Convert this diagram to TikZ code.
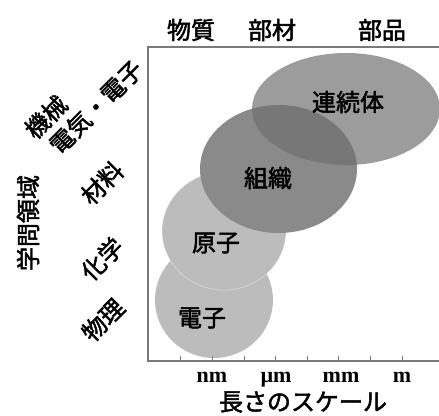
\documentclass[tikz,border=0pt]{standalone}
\usepackage{fontspec}
\setmainfont{Liberation Serif}
\newfontfamily\jp{Noto Sans CJK JP}[FakeBold=2]
\definecolor{cLight}{HTML}{BCBCBC}
\definecolor{cMid}{HTML}{8A8A8A}
\definecolor{cCont}{HTML}{9C9C9C}
\definecolor{cOver}{HTML}{777777}
\definecolor{cFrame}{HTML}{7A7A7A}
\tikzset{
  jplbl/.style={font=\jp\fontsize{24}{26}\selectfont, inner sep=0pt, text=black},
  unitlbl/.style={font=\bfseries\fontsize{22}{24}\selectfont, inner sep=0pt, anchor=base},
  framestyle/.style={draw=cFrame, line width=1.3pt},
  tickstyle/.style={draw=cFrame, line width=1pt},
}
\begin{document}
\begin{tikzpicture}[x=1pt,y=-1pt]
\useasboundingbox (0,0) rectangle (439,415);
% ellipses
\fill[cLight] (214,300) ellipse [x radius=59, y radius=58];
\fill[cLight] (224,231) ellipse [x radius=62, y radius=59];
\draw[white, opacity=0.35, line width=0.8pt] (224,231) ellipse [x radius=62, y radius=59];
\fill[cMid] (278.5,169) ellipse [x radius=78.5, y radius=64];
\fill[cCont] (346,109) ellipse [x radius=94, y radius=56];
\begin{scope}
  \clip (346,109) ellipse [x radius=94, y radius=56];
  \fill[cOver] (278.5,169) ellipse [x radius=78.5, y radius=64];
\end{scope}
% frame
\draw[framestyle] (439,47) -- (148,47) -- (148,361) -- (439,361);
\foreach \tx in {180,212,244,275,307,338,370,402}
  \draw[tickstyle] (\tx,361) -- (\tx,356);
% top labels
\node[jplbl] (t1) at (191,30) {物質};
\node[jplbl] (t2) at (272,30) {部材};
\node[jplbl] (t3) at (382,30) {部品};
% ellipse labels
\node[jplbl] (lc) at (348,102) {連続体};
\node[jplbl] (ls) at (268,178) {組織};
\node[jplbl] (la) at (216,243) {原子};
\node[jplbl] (le) at (202,318) {電子};
% units
\node[unitlbl] (u1) at (212,382) {nm};
\node[unitlbl] (u2) at (276,382) {µm};
\node[unitlbl] (u3) at (341,382) {mm};
\node[unitlbl] (u4) at (402,382) {m};
\node[jplbl] (xl) at (303,402) {長さのスケール};
% left labels
\node[jplbl, rotate=90] (yl) at (28,223) {学問領域};
\node[jplbl, rotate=45] (f1) at (46,117) {機械};
\node[jplbl, rotate=45] (f2) at (96,107) {電気・電子};
\node[jplbl, rotate=45] (f3) at (102,183) {材料};
\node[jplbl, rotate=45] (f4) at (102,259) {化学};
\node[jplbl, rotate=45] (f5) at (103,320) {物理};
\end{tikzpicture}
\end{document}
